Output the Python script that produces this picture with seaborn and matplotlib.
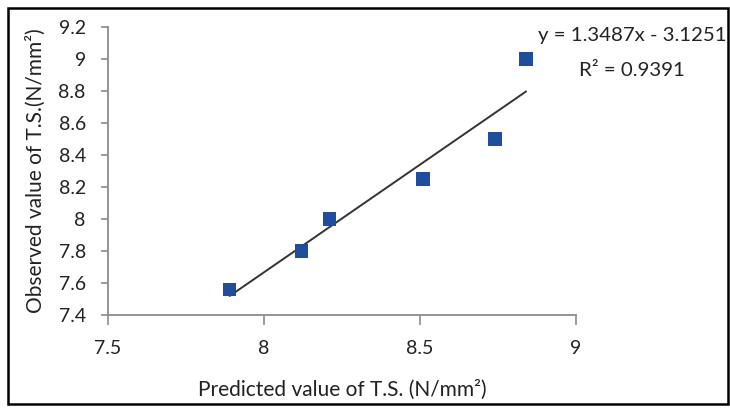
import matplotlib
matplotlib.use("Agg")
import matplotlib.pyplot as plt
import seaborn as sns
import pandas as pd
from matplotlib.patches import Rectangle

# Data
predicted = [7.89, 8.12, 8.21, 8.51, 8.74, 8.84]
observed = [7.56, 7.80, 8.00, 8.25, 8.50, 9.00]
x_ticks = [7.5, 8, 8.5, 9]
x_tick_labels = ["7.5", "8", "8.5", "9"]
y_ticks = [7.4, 7.6, 7.8, 8.0, 8.2, 8.4, 8.6, 8.8, 9.0, 9.2]
y_tick_labels = ["7.4", "7.6", "7.8", "8", "8.2", "8.4", "8.6", "8.8", "9", "9.2"]
equation_text = "y = 1.3487x - 3.1251"
r2_text = "R² = 0.9391"
x_label = "Predicted value of T.S. (N/mm²)"
y_label = "Observed value of T.S.(N/mm²)"

df = pd.DataFrame({"pred": predicted, "obs": observed})

sns.set_theme(style="white")
plt.rcParams["font.family"] = ["Lato", "DejaVu Sans"]

W, H = 730, 408
fig = plt.figure(figsize=(W / 100, H / 100), dpi=100)
ax = fig.add_axes([108 / W, (H - 315) / H, (576 - 108) / W, (315 - 27) / H])

sns.regplot(
    data=df, x="pred", y="obs", ax=ax, ci=None, marker="s",
    scatter_kws=dict(s=95, color="#1F4E9E", edgecolor="none", alpha=1, zorder=3),
    line_kws=dict(color="#333333", lw=1.4, zorder=2),
)

ax.set_xlim(7.5, 9)
ax.set_ylim(7.4, 9.2)
ax.set_xticks(x_ticks)
ax.set_xticklabels(x_tick_labels)
ax.set_yticks(y_ticks)
ax.set_yticklabels(y_tick_labels)
for s in ["top", "right"]:
    ax.spines[s].set_visible(False)
for s in ["left", "bottom"]:
    ax.spines[s].set_color("#8C8C8C")
    ax.spines[s].set_linewidth(1.3)
ax.tick_params(axis="y", direction="out", length=5, width=1.2, color="#8C8C8C",
               pad=11, labelsize=14, labelcolor="#222222", left=True)
ax.tick_params(axis="x", direction="out", length=7, width=1.2, color="#8C8C8C",
               pad=11, labelsize=14, labelcolor="#222222", bottom=True)
ax.set_xlabel(x_label, fontsize=15, color="#222222", labelpad=16)
ax.set_ylabel(y_label, fontsize=15, color="#222222", labelpad=9)
ax.set_facecolor("white")

fig.text(632 / W, 1 - 35 / H, equation_text, ha="center", va="center",
         fontsize=14.7, color="#222222")
fig.text(632 / W, 1 - 70 / H, r2_text, ha="center", va="center",
         fontsize=14.7, color="#222222")

fig.patches.append(Rectangle((8 / W, 4 / H), (728 - 8) / W, (400 - 4) / H,
                             transform=fig.transFigure, fill=False,
                             edgecolor="black", lw=1.8))

fig.savefig("out.png", dpi=100)
